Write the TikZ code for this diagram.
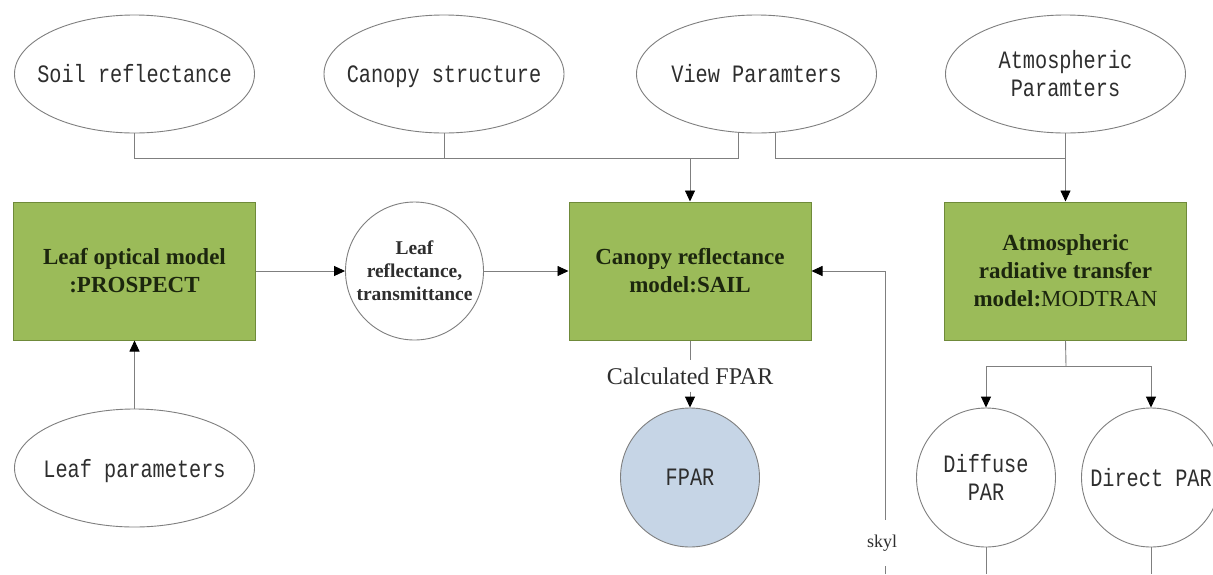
\documentclass[tikz,border=0pt]{standalone}
\usepackage{fontspec}
\setmainfont{Liberation Serif}
\newfontfamily\paramfont[FakeStretch=0.81]{Liberation Mono}
\usetikzlibrary{shapes.geometric, arrows.meta}
\definecolor{rtgreen}{HTML}{9BBB59}
\definecolor{rtedge}{HTML}{6F8A3A}
\definecolor{rtink}{HTML}{1C260E}
\definecolor{rtline}{HTML}{7F7F7F}
\definecolor{rtgray}{HTML}{2E2E2E}
\definecolor{rtblue}{HTML}{C6D5E6}
\newcommand{\nodepth}[1]{\raisebox{0pt}[\height][0pt]{#1}}
\tikzset{
  param ellipse/.style={ellipse, draw=rtline, line width=0.9pt, fill=white,
    minimum width=240pt, minimum height=118pt, inner xsep=-20pt,
    inner ysep=0pt, align=center, text=rtgray,
    font=\paramfont\fontsize{25}{28}\selectfont},
  model box/.style={rectangle, draw=rtedge, line width=1pt, fill=rtgreen,
    minimum width=242pt, minimum height=138pt, inner sep=0pt, align=center,
    text=rtink, font=\bfseries\fontsize{23}{28}\selectfont},
  data circle/.style={circle, draw=rtline, line width=0.9pt, fill=white,
    minimum size=139pt, inner sep=0pt, align=center,
    text=rtgray, font=\paramfont\fontsize{25}{28}\selectfont},
  flow line/.style={draw=rtline, line width=0.9pt},
  flow arrow/.style={flow line, -{Triangle[length=11pt, width=10pt, color=black]}},
  edge label/.style={text=rtgray},
}

\begin{document}
\begin{tikzpicture}[x=1pt, y=-1pt]
  \path[use as bounding box, fill=white] (0,0) rectangle (1213,574);

  % input parameters
  \node[param ellipse] (soil) at (134.5,74) {Soil reflectance};
  \node[param ellipse] (canopy) at (444,74) {\nodepth{Canopy structure}};
  \node[param ellipse] (view) at (756.5,74) {View Paramters};
  \node[param ellipse] (atmos) at (1065.5,74) {Atmospheric\\Paramters};
  \node[param ellipse] (leafpar) at (134.5,468) {\nodepth{Leaf parameters}};

  % models
  \node[model box] (prospect) at (134.5,271) {Leaf optical model\\:PROSPECT};
  \node[model box] (sail) at (690,271) {Canopy reflectance\\model:SAIL};
  \node[model box] (modtran) at (1065.5,271)
    {Atmospheric\\radiative transfer\\model:\mdseries MODTRAN};

  % outputs
  \node[data circle, minimum size=138pt,
    font=\bfseries\fontsize{19.5}{23}\selectfont] (leafrt) at (414.5,271)
    {Leaf\\reflectance,\\transmittance};
  \node[data circle, fill=rtblue] (fpar) at (690,477.5) {FPAR};
  \node[data circle] (diffuse) at (986,477.5) {Diffuse\\PAR};
  \node[data circle] (direct) at (1151,477.5) {Direct PAR};

  \node[edge label, inner xsep=0pt, inner ysep=7pt,
    font=\fontsize{24}{28}\selectfont] (calc) at (690,376) {Calculated FPAR};
  \node[edge label, fill=white, inner xsep=1pt, inner ysep=15pt,
    font=\fontsize{18}{20}\selectfont] (skyl) at (882,543) {skyl};

  \coordinate (bus) at (0,158);
  \coordinate (vleft) at ([xshift=-18.5pt]view.south);
  \coordinate (vright) at ([xshift=18.5pt]view.south);
  \coordinate (split) at (1066,366);
  \coordinate (skyfoot) at (885,574);
  \coordinate (difffoot) at (986,574);
  \coordinate (dirfoot) at (1151,574);

  % connectors
  \draw[flow line] (soil.south) |- (vleft |- bus) -- (vleft);
  \draw[flow line] (canopy.south) -- (canopy.south |- bus);
  \draw[flow arrow] (sail.north |- bus) -- (sail.north);
  \draw[flow line] (vright) |- (atmos.south |- bus);
  \draw[flow arrow] (atmos.south) -- (modtran.north);
  \draw[flow arrow] (leafpar.north) -- (prospect.south);
  \draw[flow arrow] (prospect.east) -- (leafrt.west);
  \draw[flow arrow] (leafrt.east) -- (sail.west);
  \draw[flow line] (sail.south) -- (calc.north);
  \draw[flow arrow] (calc.south) -- (fpar.north);
  \draw[flow line] (skyfoot) -- (skyfoot |- skyl.south);
  \draw[flow arrow] (skyfoot |- skyl.north) |- (sail.east);
  \draw[flow line] (modtran.south) -- (split);
  \draw[flow arrow] (split) -| (diffuse.north);
  \draw[flow arrow] (split) -| (direct.north);
  \draw[flow line] (diffuse.south) -- (difffoot);
  \draw[flow line] (direct.south) -- (dirfoot);
\end{tikzpicture}
\end{document}
